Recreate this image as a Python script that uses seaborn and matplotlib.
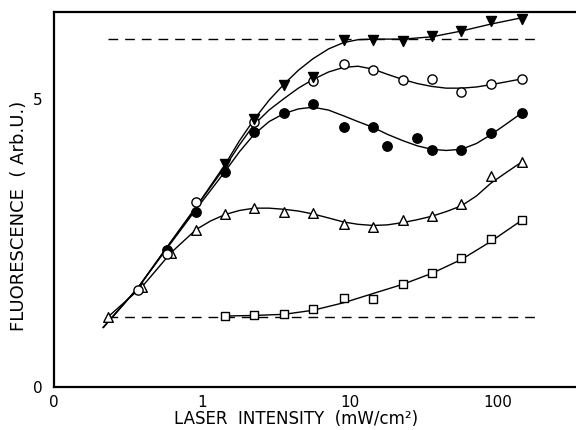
import matplotlib
matplotlib.use("Agg")
import matplotlib.pyplot as plt
import seaborn as sns

# ---------------- data ----------------
# measured points (x in mW/cm^2, y in arbitrary units)
tri_down_x = [1.44, 2.26, 3.6, 5.65, 9.1, 14.4, 22.9, 36, 57, 90, 146]
tri_down_y = [3.86, 4.64, 5.23, 5.37, 6.02, 6.02, 6.00, 6.09, 6.17, 6.35, 6.38]

open_circle_x = [0.37, 0.58, 0.915, 2.26, 5.65, 9.1, 14.4, 22.9, 36, 57, 90, 146]
open_circle_y = [1.69, 2.30, 3.20, 4.59, 5.30, 5.60, 5.50, 5.32, 5.34, 5.11, 5.25, 5.34]

filled_circle_x = [0.58, 0.915, 1.44, 2.26, 3.6, 5.65, 9.1, 14.4, 17.9, 28.5, 36, 57, 90, 146]
filled_circle_y = [2.38, 3.03, 3.72, 4.42, 4.75, 4.90, 4.50, 4.50, 4.17, 4.31, 4.10, 4.10, 4.40, 4.75]

open_tri_x = [0.233, 0.395, 0.62, 0.915, 1.44, 2.26, 3.6, 5.65, 9.1, 14.4, 22.9, 36, 57, 90, 146]
open_tri_y = [1.22, 1.74, 2.33, 2.73, 2.99, 3.10, 3.04, 3.01, 2.82, 2.78, 2.89, 2.97, 3.17, 3.65, 3.90]

open_sq_x = [1.44, 2.26, 3.6, 5.65, 9.1, 14.4, 22.9, 36, 57, 90, 146]
open_sq_y = [1.23, 1.25, 1.27, 1.36, 1.55, 1.53, 1.79, 1.97, 2.24, 2.57, 2.89]

# hand-drawn fit curves
curve_v_x = [0.215, 0.37, 0.58, 0.915, 1.44, 1.8, 2.26, 2.85, 3.6, 4.5, 5.65, 7.2, 9.1, 11.4, 14.4, 22.9, 36, 57, 90, 146]
curve_v_y = [1.03, 1.72, 2.42, 3.12, 3.86, 4.27, 4.64, 4.97, 5.25, 5.49, 5.69, 5.86, 5.97, 6.02, 6.03, 6.03, 6.07, 6.17, 6.29, 6.40]

curve_o_x = [0.215, 0.37, 0.58, 0.915, 1.44, 1.8, 2.26, 2.85, 3.6, 4.5, 5.65, 7.2, 9.1, 11.4, 14.4, 18, 22.9, 28.7, 36, 45, 57, 72, 90, 115, 146]
curve_o_y = [1.03, 1.72, 2.42, 3.12, 3.82, 4.20, 4.55, 4.80, 5.00, 5.18, 5.33, 5.46, 5.54, 5.56, 5.51, 5.42, 5.33, 5.26, 5.21, 5.18, 5.18, 5.20, 5.24, 5.29, 5.34]

curve_f_x = [0.215, 0.37, 0.58, 0.915, 1.44, 1.8, 2.26, 2.85, 3.6, 4.5, 5.65, 7.2, 9.1, 11.4, 14.4, 18, 22.9, 28.7, 36, 45, 57, 72, 90, 115, 146]
curve_f_y = [1.03, 1.72, 2.40, 3.08, 3.74, 4.08, 4.38, 4.60, 4.74, 4.82, 4.85, 4.80, 4.70, 4.60, 4.50, 4.38, 4.27, 4.18, 4.12, 4.10, 4.12, 4.22, 4.37, 4.56, 4.75]

curve_t_x = [0.233, 0.395, 0.62, 0.915, 1.15, 1.44, 1.8, 2.26, 2.85, 3.6, 4.5, 5.65, 7.2, 9.1, 11.4, 14.4, 18, 22.9, 28.7, 36, 45, 57, 72, 90, 115, 146]
curve_t_y = [1.22, 1.74, 2.33, 2.73, 2.88, 2.99, 3.06, 3.10, 3.10, 3.08, 3.05, 3.00, 2.93, 2.86, 2.82, 2.80, 2.81, 2.85, 2.90, 2.96, 3.04, 3.14, 3.31, 3.53, 3.72, 3.90]

curve_s_x = [1.44, 2.26, 3.6, 5.65, 9.1, 14.4, 22.9, 36, 57, 90, 146]
curve_s_y = [1.23, 1.24, 1.26, 1.33, 1.46, 1.62, 1.78, 1.97, 2.21, 2.52, 2.89]

# dashed reference levels
dash_x = [0.233, 193]
dash_upper = 6.03
dash_lower = 1.22

x_ticks = [0.1, 1, 10, 100]
x_tick_labels = ["0", "1", "10", "100"]
y_ticks = [0, 1, 2, 3, 4, 5]
y_tick_labels = ["0", "", "", "", "", "5"]

# ---------------- drawing ----------------
sns.set_style("white")
plt.rcParams['font.family'] = ['DejaVu Sans']
plt.rcParams['text.color'] = 'black'
plt.rcParams['axes.labelcolor'] = 'black'
plt.rcParams['xtick.color'] = 'black'
plt.rcParams['ytick.color'] = 'black'

fig = plt.figure(figsize=(5.76, 4.30), dpi=100)
ax = fig.add_axes([54 / 576, 1 - 387 / 430, 1 - 54 / 576, (387 - 12) / 430])
ax.set_xscale('log')

for cx, cy in [(curve_v_x, curve_v_y), (curve_o_x, curve_o_y), (curve_f_x, curve_f_y),
               (curve_t_x, curve_t_y), (curve_s_x, curve_s_y)]:
    sns.lineplot(x=cx, y=cy, ax=ax, color='black', lw=1.0, estimator=None, sort=False, zorder=2)

for lvl in (dash_upper, dash_lower):
    sns.lineplot(x=dash_x, y=[lvl, lvl], ax=ax, color='black', lw=1.0,
                 estimator=None, sort=False, dashes=False, zorder=1.5)
for line in ax.lines[-2:]:
    line.set_dashes((7.0, 5.0))

sns.scatterplot(x=open_tri_x, y=open_tri_y, ax=ax, marker='^', s=48, color='white',
                edgecolor='black', linewidth=1.0, zorder=3)
sns.scatterplot(x=open_sq_x, y=open_sq_y, ax=ax, marker='s', s=40, color='white',
                edgecolor='black', linewidth=1.0, zorder=3)
sns.scatterplot(x=filled_circle_x, y=filled_circle_y, ax=ax, marker='o', s=46, color='black',
                edgecolor='black', linewidth=1.0, zorder=3)
sns.scatterplot(x=open_circle_x, y=open_circle_y, ax=ax, marker='o', s=44, color='white',
                edgecolor='black', linewidth=1.0, zorder=3)
sns.scatterplot(x=tri_down_x, y=tri_down_y, ax=ax, marker='v', s=52, color='black',
                edgecolor='black', linewidth=1.0, zorder=4)

ax.set_xlim(0.1, 340)
ax.set_ylim(0, 6.5)
ax.set_xticks(x_ticks)
ax.set_xticklabels(x_tick_labels)
ax.xaxis.set_minor_locator(matplotlib.ticker.NullLocator())
ax.set_yticks(y_ticks)
ax.set_yticklabels(y_tick_labels)

ax.tick_params(axis='x', direction='in', length=6.5, width=1.2, labelsize=11, pad=6,
               color='black', labelcolor='black')
ax.tick_params(axis='y', direction='in', length=8.5, width=1.2, labelsize=11, pad=8,
               color='black', labelcolor='black')

for side in ('left', 'bottom', 'top'):
    ax.spines[side].set_visible(True)
    ax.spines[side].set_linewidth(1.6)
    ax.spines[side].set_color('black')
ax.spines['right'].set_visible(False)

ax.set_xlabel("LASER  INTENSITY  (mW/cm²)", fontsize=12, color='black')
ax.set_ylabel("FLUORESCENCE  ( Arb.U.)", fontsize=13, color='black')
ax.xaxis.set_label_coords((296 - 54) / 522, (387 - 410) / 375)
ax.yaxis.set_label_coords((28 - 54) / 522, (387 - 216) / 375)

fig.savefig("out.png", dpi=100)
